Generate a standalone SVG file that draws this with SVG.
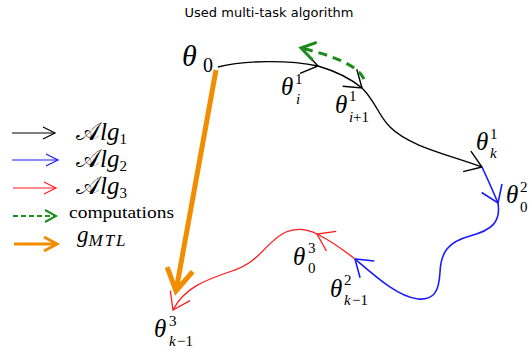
<svg xmlns="http://www.w3.org/2000/svg" width="531" height="350" viewBox="0 0 531 350">
<style>
text{font-family:"Liberation Serif","Times New Roman","DejaVu Serif",serif}
.th{font-style:italic;font-size:25px;fill:#000}
.sm{font-size:15px;fill:#000}
.smi{font-style:italic;font-size:15px;fill:#000}
.lg{font-size:25px;fill:#000}
text.title{font-family:"DejaVu Sans",sans-serif;font-size:13px;fill:#000}
.k{fill:none;stroke:#000;stroke-width:1.4}
.b{fill:none;stroke:#1a1aff;stroke-width:1.6}
.r{fill:none;stroke:#ff1a1a;stroke-width:1.3}
.g{fill:none;stroke:#1a8c1a;stroke-width:3;stroke-dasharray:9,6}
.o{fill:none;stroke:#f28c00;stroke-width:5}
</style>
<defs>
<marker id="ak" markerUnits="userSpaceOnUse" markerWidth="40" markerHeight="40" refX="0" refY="0" viewBox="-20 -20 40 40" orient="auto" overflow="visible"><path d="M-16,-11 L0,0 L-16,11" fill="none" stroke="#000" stroke-width="1.4"/></marker>
<marker id="ab" markerUnits="userSpaceOnUse" markerWidth="40" markerHeight="40" refX="0" refY="0" viewBox="-20 -20 40 40" orient="auto" overflow="visible"><path d="M-16,-11 L0,0 L-16,11" fill="none" stroke="#1a1aff" stroke-width="1.6"/></marker>
<marker id="ar" markerUnits="userSpaceOnUse" markerWidth="40" markerHeight="40" refX="0" refY="0" viewBox="-20 -20 40 40" orient="auto" overflow="visible"><path d="M-16,-11 L0,0 L-16,11" fill="none" stroke="#ff1a1a" stroke-width="1.3"/></marker>
<marker id="ag" markerUnits="userSpaceOnUse" markerWidth="40" markerHeight="40" refX="0" refY="0" viewBox="-20 -20 40 40" orient="auto" overflow="visible"><path d="M-14,-9 L0,0 L-14,9" fill="none" stroke="#1a8c1a" stroke-width="3"/></marker>
<marker id="ao" markerUnits="userSpaceOnUse" markerWidth="60" markerHeight="60" refX="0" refY="0" viewBox="-30 -30 60 60" orient="auto" overflow="visible"><path d="M-22,-13 L0,0 L-22,13" fill="none" stroke="#f28c00" stroke-width="5"/></marker>
<marker id="lk" markerUnits="userSpaceOnUse" markerWidth="30" markerHeight="30" refX="0" refY="0" viewBox="-15 -15 30 30" orient="auto" overflow="visible"><path d="M-12,-6 L0,0 L-12,6" fill="none" stroke="#000" stroke-width="1.2"/></marker>
<marker id="lb" markerUnits="userSpaceOnUse" markerWidth="30" markerHeight="30" refX="0" refY="0" viewBox="-15 -15 30 30" orient="auto" overflow="visible"><path d="M-12,-6 L0,0 L-12,6" fill="none" stroke="#1a1aff" stroke-width="1.2"/></marker>
<marker id="lr" markerUnits="userSpaceOnUse" markerWidth="30" markerHeight="30" refX="0" refY="0" viewBox="-15 -15 30 30" orient="auto" overflow="visible"><path d="M-12,-6 L0,0 L-12,6" fill="none" stroke="#ff1a1a" stroke-width="1.2"/></marker>
<marker id="lgm" markerUnits="userSpaceOnUse" markerWidth="30" markerHeight="30" refX="0" refY="0" viewBox="-15 -15 30 30" orient="auto" overflow="visible"><path d="M-11,-6 L0,0 L-11,6" fill="none" stroke="#1a8c1a" stroke-width="2"/></marker>
<marker id="lo" markerUnits="userSpaceOnUse" markerWidth="30" markerHeight="30" refX="0" refY="0" viewBox="-15 -15 30 30" orient="auto" overflow="visible"><path d="M-13,-7 L0,0 L-13,7" fill="none" stroke="#f28c00" stroke-width="3"/></marker>
</defs>
<rect width="531" height="350" fill="#fff"/>
<text class="title" x="269" y="17" text-anchor="middle">Used multi-task algorithm</text>

<g id="connectors">
<path class="o" d="M216,70 L176,291" marker-end="url(#ao)"/>
<path class="k" d="M218,67 C245,60 290,60 318,66" marker-end="url(#ak)"/>
<path class="k" d="M318,66 C335,71 350,78 362,88" marker-end="url(#ak)"/>
<path class="k" d="M362,88 C376,102 378,115 390,127 C410,147 450,155 482,167" marker-end="url(#ak)"/>
<path class="b" d="M482,167 C488,180 493,191 498,203" marker-end="url(#ab)"/>
<path class="b" d="M498,203 C501,222 492,230 470,236 C448,242 441,252 440,272 C439,292 434,300 418,299 C398,297 375,276 355,259" marker-end="url(#ab)"/>
<path class="r" d="M355,259 C341,248 329,240 317,234" marker-end="url(#ar)"/>
<path class="r" d="M317,234 C307,229 296,228 286,232 C266,241 262,261 232,271 C205,280 184,288 173,310" marker-end="url(#ar)"/>
<path class="g" d="M364,79 C358,66 335,56 301,48" marker-end="url(#ag)"/>
</g>

<g id="theta0"><text class="th" x="182" y="66" style="font-size:30px">θ</text><text class="sm" x="203" y="72" style="font-size:20px">0</text></g>
<g id="theta_i_1"><text class="th" x="281" y="95">θ</text><text class="sm" x="295" y="84">1</text><text class="smi" x="296" y="104">i</text></g>
<g id="theta_i1_1"><text class="th" x="335" y="113">θ</text><text class="sm" x="349" y="101">1</text><text class="smi" x="349" y="122">i</text><text class="sm" x="353" y="122">+1</text></g>
<g id="theta_k_1"><text class="th" x="476" y="150">θ</text><text class="sm" x="490" y="139">1</text><text class="smi" x="490" y="158">k</text></g>
<g id="theta_0_2"><text class="th" x="506" y="203">θ</text><text class="sm" x="520" y="192">2</text><text class="sm" x="520" y="212">0</text></g>
<g id="theta_0_3"><text class="th" x="293" y="265">θ</text><text class="sm" x="308" y="253">3</text><text class="sm" x="308" y="273">0</text></g>
<g id="theta_k1_2"><text class="th" x="330" y="297">θ</text><text class="sm" x="344" y="285">2</text><text class="smi" x="344" y="305">k</text><text class="sm" x="352" y="305">−1</text></g>
<g id="theta_k1_3"><text class="th" x="154" y="337">θ</text><text class="sm" x="169" y="326">3</text><text class="smi" x="169" y="346">k</text><text class="sm" x="177" y="346">−1</text></g>

<g id="legend">
<path d="M12,133 L55,133" stroke="#000" stroke-width="1.2" fill="none" marker-end="url(#lk)"/>
<path d="M12,160 L58,160" stroke="#1a1aff" stroke-width="1.2" fill="none" marker-end="url(#lb)"/>
<path d="M13,188 L56,188" stroke="#ff1a1a" stroke-width="1.2" fill="none" marker-end="url(#lr)"/>
<path d="M13,216 L56,216" stroke="#1a8c1a" stroke-width="2" stroke-dasharray="5,3" fill="none" marker-end="url(#lgm)"/>
<path d="M14,244 L57,244" stroke="#f28c00" stroke-width="3" fill="none" marker-end="url(#lo)"/>
<text class="lg" x="76" y="140">𝒜<tspan font-style="italic">lg</tspan><tspan font-size="15" dy="4">1</tspan></text>
<text class="lg" x="76" y="167">𝒜<tspan font-style="italic">lg</tspan><tspan font-size="15" dy="4">2</tspan></text>
<text class="lg" x="76" y="194">𝒜<tspan font-style="italic">lg</tspan><tspan font-size="15" dy="4">3</tspan></text>
<text class="lg" x="69" y="218" style="font-size:17px" textLength="105" lengthAdjust="spacingAndGlyphs">computations</text>
<text class="lg" x="77" y="242" font-style="italic" style="font-size:23px">g<tspan font-size="17" dy="4" letter-spacing="2">MTL</tspan></text>
</g>
</svg>
